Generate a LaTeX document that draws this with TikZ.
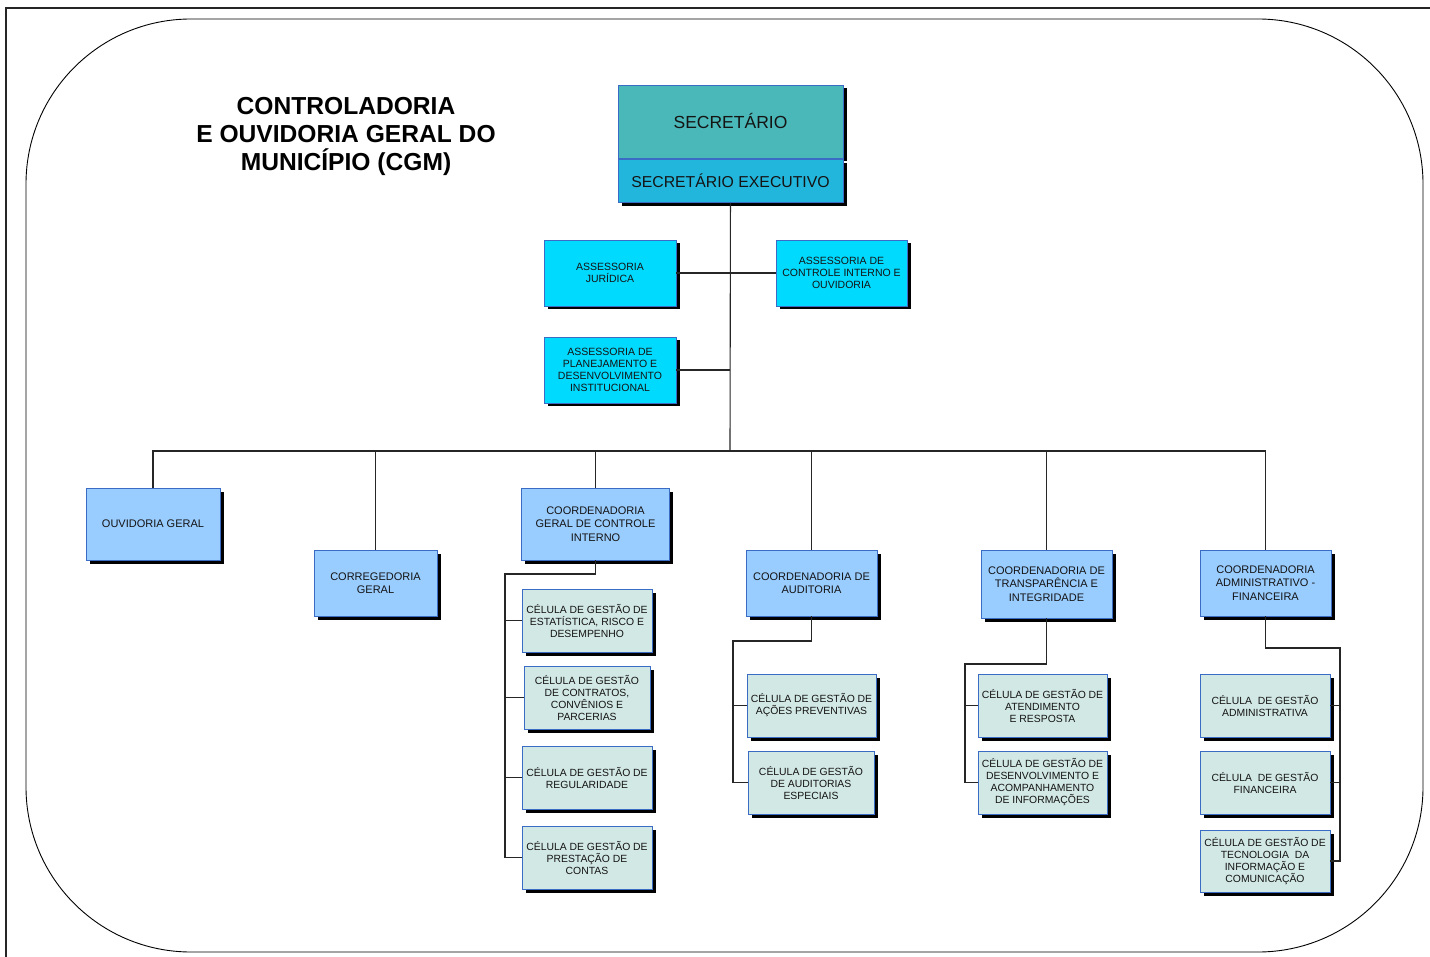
\documentclass[tikz,border=0pt]{standalone}
\usepackage{fontspec}
\setmainfont{Liberation Sans}
\usetikzlibrary{shadows}

\definecolor{secfill}{HTML}{4AB8B8}
\definecolor{execfill}{HTML}{22B6DC}
\definecolor{assfill}{HTML}{00DAFF}
\definecolor{coordfill}{HTML}{99CCFF}
\definecolor{cellfill}{HTML}{D2E8E4}
\definecolor{boxline}{HTML}{3A6CC6}

\begin{document}
\begin{tikzpicture}[x=1pt, y=-1pt,
  every node/.style={rectangle, align=center, inner sep=1pt, text=black!92},
  box/.style={draw=boxline, line width=0.8pt,
    drop shadow={shadow xshift=3.5pt, shadow yshift=-3.5pt, fill=black, opacity=1}},
  sec/.style={box, fill=secfill, minimum width=225pt, minimum height=73pt, font=\fontsize{17.5}{20}\selectfont},
  exe/.style={box, fill=execfill, minimum width=225pt, minimum height=43pt, font=\fontsize{15.8}{18}\selectfont},
  assess/.style={box, fill=assfill, minimum width=132pt, minimum height=66pt, font=\fontsize{10.5}{12}\selectfont},
  coord/.style={box, fill=coordfill, minimum height=66pt, font=\fontsize{11}{13.5}\selectfont},
  cell/.style={box, fill=cellfill, minimum width=130pt, minimum height=63pt, font=\fontsize{10.4}{12}\selectfont},
  link/.style={draw=black!85, line width=1.1pt},
  ]
  \useasboundingbox (0,0) rectangle (1430,957);
  % frame
  \draw[black!85, line width=2.5pt] (6,957) -- (6,8) -- (1430,8);
  \draw[black, line width=0.9pt, rounded corners=165pt] (26,19) rectangle (1423,952);
  \node[font=\bfseries\fontsize{24.6}{28}\selectfont, text=black] (title) at (346,136.5)
    {CONTROLADORIA\\E OUVIDORIA GERAL DO\\MUNICÍPIO (CGM)};
  % top
  \node[sec] (sec) at (730.5,121.5) {SECRETÁRIO};
  \node[exe] (exec) at (730.5,181) {SECRETÁRIO EXECUTIVO};
  \node[assess] (asj) at (610,273) {ASSESSORIA\\JURÍDICA};
  \node[assess, minimum width=131pt] (asci) at (841.5,273) {ASSESSORIA DE\\CONTROLE INTERNO E\\OUVIDORIA};
  \node[assess] (asp) at (610,370) {ASSESSORIA DE\\PLANEJAMENTO E\\DESENVOLVIMENTO\\INSTITUCIONAL};
  \coordinate (bus) at (730,451);
  \draw[link] (exec) -- (bus);
  \draw[link] (asj.east) -- (asci.west);
  \draw[link] (asp.east) -- (asp.east -| bus);
  % coordenadorias
  \node[coord, minimum width=134pt, minimum height=72pt] (ouv) at (153,524) {OUVIDORIA GERAL};
  \node[coord, minimum width=123pt] (corr) at (375.5,583) {CORREGEDORIA\\GERAL};
  \node[coord, minimum width=148pt, minimum height=72pt] (cgci) at (595.5,524) {COORDENADORIA\\GERAL DE CONTROLE\\INTERNO};
  \node[coord, minimum width=131pt] (aud) at (811.5,583) {COORDENADORIA DE\\AUDITORIA};
  \node[coord, minimum width=131pt, minimum height=68pt] (transp) at (1046.5,584) {COORDENADORIA DE\\TRANSPARÊNCIA E\\INTEGRIDADE};
  \node[coord, minimum width=131pt] (adm) at (1265.5,583) {COORDENADORIA\\ADMINISTRATIVO -\\FINANCEIRA};
  \draw[link] (ouv.north) -- (ouv.north |- bus) -- (adm.north |- bus) -- (adm.north);
  \draw[link] (corr.north) -- (corr.north |- bus);
  \draw[link] (cgci.north) -- (cgci.north |- bus);
  \draw[link] (aud.north) -- (aud.north |- bus);
  \draw[link] (transp.north) -- (transp.north |- bus);
  % celulas controle interno
  \node[cell] (c1) at (587,620.5) {CÉLULA DE GESTÃO DE\\ESTATÍSTICA, RISCO E\\DESEMPENHO};
  \node[cell, minimum width=126pt] (c2) at (587,697.5) {CÉLULA DE GESTÃO\\DE CONTRATOS,\\CONVÊNIOS E\\PARCERIAS};
  \node[cell] (c3) at (587,777.5) {CÉLULA DE GESTÃO DE\\REGULARIDADE};
  \node[cell] (c4) at (587,857.5) {CÉLULA DE GESTÃO DE\\PRESTAÇÃO DE\\CONTAS};
  \coordinate (cgciL) at (505,574);
  \draw[link] (cgci.south) |- (cgciL) -- (cgciL |- c4.west) -- (c4.west);
  \draw[link] (cgciL |- c1.west) -- (c1.west);
  \draw[link] (cgciL |- c2.west) -- (c2.west);
  \draw[link] (cgciL |- c3.west) -- (c3.west);
  % celulas auditoria
  \node[cell, minimum width=129pt] (a1) at (811.5,705.5) {CÉLULA DE GESTÃO DE\\AÇÕES PREVENTIVAS};
  \node[cell, minimum width=126pt] (a2) at (811,782.5) {CÉLULA DE GESTÃO\\DE AUDITORIAS\\ESPECIAIS};
  \coordinate (audL) at (733,641);
  \draw[link] (aud.south) |- (audL) -- (audL |- a2.west) -- (a2.west);
  \draw[link] (audL |- a1.west) -- (a1.west);
  % celulas transparencia
  \node[cell, minimum width=129pt] (t1) at (1042.5,705.5) {CÉLULA DE GESTÃO DE\\ATENDIMENTO\\E RESPOSTA};
  \node[cell, minimum width=129pt] (t2) at (1042.5,782.5) {CÉLULA DE GESTÃO DE\\DESENVOLVIMENTO E\\ACOMPANHAMENTO\\DE INFORMAÇÕES};
  \coordinate (transpL) at (965,664);
  \draw[link] (transp.south) |- (transpL) -- (transpL |- t2.west) -- (t2.west);
  \draw[link] (transpL |- t1.west) -- (t1.west);
  % celulas adm-fin
  \node[cell] (f1) at (1265,705.5) {CÉLULA~ DE GESTÃO\\ADMINISTRATIVA};
  \node[cell] (f2) at (1265,782.5) {CÉLULA~ DE GESTÃO\\FINANCEIRA};
  \node[cell, minimum height=62pt] (f3) at (1265,861) {CÉLULA DE GESTÃO DE\\TECNOLOGIA~ DA\\INFORMAÇÃO E\\COMUNICAÇÃO};
  \coordinate (admR) at (1340,648);
  \draw[link] (adm.south) |- (admR) -- (admR |- f3.east) -- (f3.east);
  \draw[link] (admR |- f1.east) -- (f1.east);
  \draw[link] (admR |- f2.east) -- (f2.east);
\end{tikzpicture}
\end{document}
